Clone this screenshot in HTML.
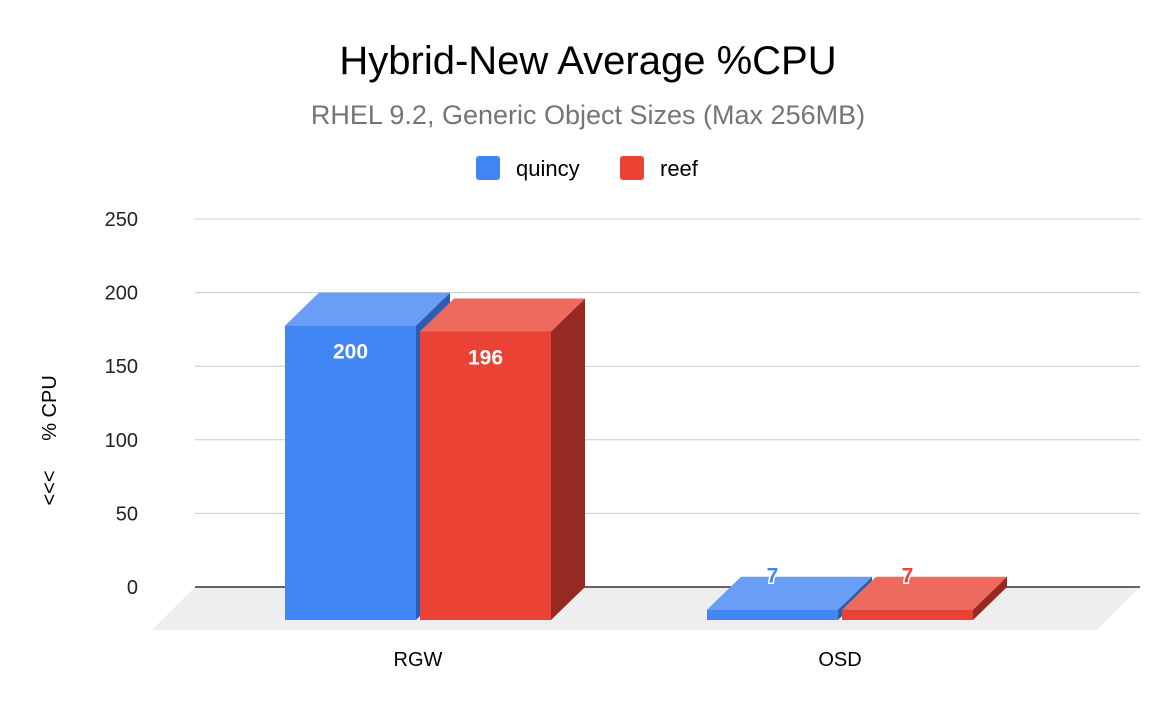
<!DOCTYPE html>
<html><head><meta charset="utf-8"><style>
body{margin:0;background:#fff}
svg{display:block;font-family:"Liberation Sans",Arial,sans-serif}
</style></head><body>
<svg id="chart" width="1176" height="706" viewBox="0 0 1176 706">
<text x="588" y="74" font-size="40" text-anchor="middle" fill="#000">Hybrid-New Average %CPU</text>
<text x="588" y="124" font-size="27" text-anchor="middle" fill="#757575">RHEL 9.2, Generic Object Sizes (Max 256MB)</text>
<g>
<g><rect x="476" y="156" width="24" height="24" rx="3" fill="#4285f4"/><text x="516" y="176" font-size="22">quincy</text></g>
<g><rect x="620" y="156" width="24" height="24" rx="3" fill="#ea4335"/><text x="660" y="176" font-size="22">reef</text></g>
</g>
<text transform="translate(56,488) rotate(-90)" font-size="20" text-anchor="middle">&lt;&lt;&lt;</text>
<text transform="translate(56,408) rotate(-90)" font-size="20" text-anchor="middle">% CPU</text>
<g id="grid"></g><g id="bars"></g>
</svg>
<script>
const categories=["RGW","OSD"];
const seriesNames=["quincy","reef"];
const quincyValues=[200,7];
const reefValues=[196,7];
const yTicks=[0,50,100,150,200,250];
const NS="http://www.w3.org/2000/svg";
const y0=587,yTop=219,yMax=250;
function yS(v){return y0-(v/yMax)*(y0-yTop);}
const dx=34,dy=33;
function xC(i){return 418+i*422;}
const bw=131,gap=4;
const grid=document.getElementById('grid'),bars=document.getElementById('bars');
function mk(tag,attrs,parent){const e=document.createElementNS(NS,tag);for(const k in attrs)e.setAttribute(k,attrs[k]);parent.appendChild(e);return e;}
let floor=mk('polygon',{points:`${195-43},${y0+43} 195,${y0} 1140,${y0} ${1140-43},${y0+43}`,fill:'#eeeeee'},grid);


yTicks.forEach(t=>{
 const y=yS(t);
 const l=mk('line',{x1:195,x2:1140,y1:y,y2:y,stroke:t===0?'#333':'#ccc','stroke-width':t===0?1.5:1},grid);
 
 
 const tx=mk('text',{x:138,y:y+7,'font-size':20,'text-anchor':'end',fill:'#222'},grid);
 tx.textContent=t;
 
 
});
const cols=[{f:'#4285f4',t:'#6a9ef6',s:'#2d5db0'},{f:'#ea4335',t:'#ee6a5f',s:'#962a22'}];
const series=[quincyValues,reefValues];
categories.forEach((c,i)=>{
 const cl=mk('text',{x:xC(i),y:666,'font-size':20,'text-anchor':'middle'},grid);
 cl.textContent=c;
 
 
 series.forEach((vals,s)=>{
  const v=vals[i];
  const x=xC(i)-bw-gap/2+s*(bw+gap);
  const top=yS(v)+dy,bot=y0+dy;
  const g=mk('g',{},bars);
  
  
  mk('polygon',{points:`${x+bw},${top} ${x+bw+dx},${top-dy} ${x+bw+dx},${bot-dy} ${x+bw},${bot}`,fill:cols[s].s},g);
  mk('polygon',{points:`${x},${top} ${x+dx},${top-dy} ${x+bw+dx},${top-dy} ${x+bw},${top}`,fill:cols[s].t},g);
  mk('rect',{x:x,y:top,width:bw,height:bot-top,fill:cols[s].f},g);
  const big=(bot-top)>40;
  const lb=mk('text',{x:x+bw/2,y:big?top+33:top-27,'font-size':21,'font-weight':'bold','text-anchor':'middle',fill:big?'#fff':cols[s].f},g);
  if(!big){lb.setAttribute('stroke','#fff');lb.setAttribute('stroke-width','3');lb.setAttribute('paint-order','stroke');}
  lb.textContent=v;
  
  
 });
});
</script>
</body></html>
